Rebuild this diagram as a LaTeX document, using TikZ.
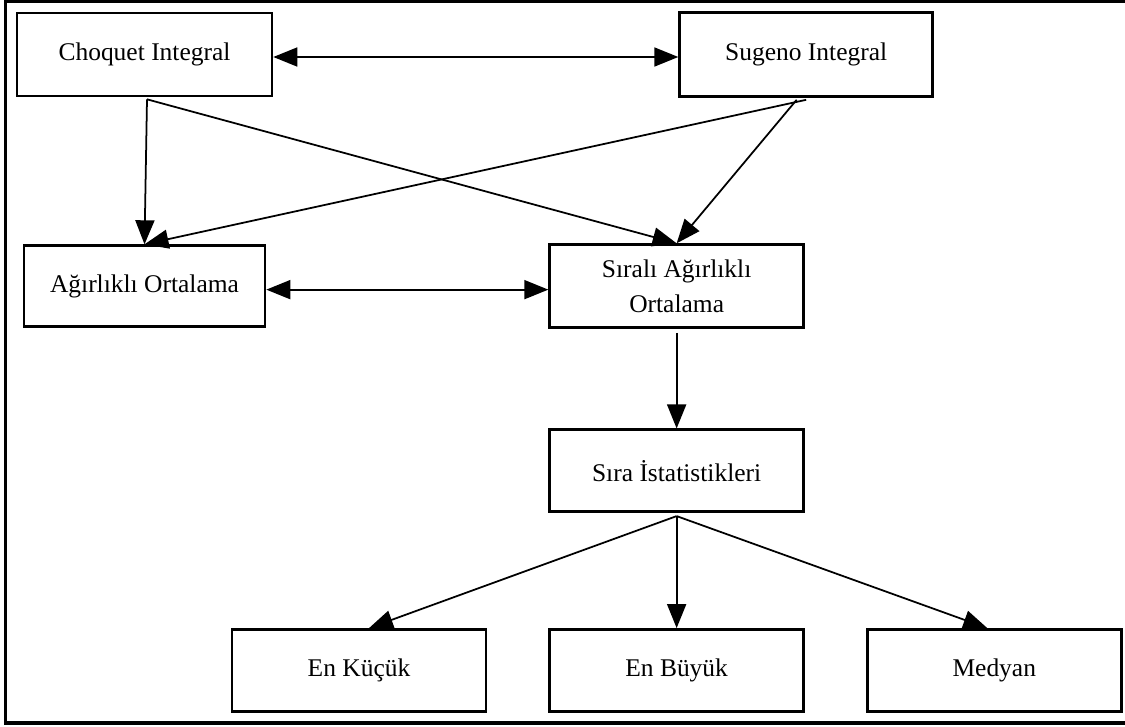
\documentclass[tikz,border=0pt]{standalone}
\usepackage{fontspec}
\setmainfont{Liberation Serif}
\usepackage{tikz}
\usetikzlibrary{arrows.meta, positioning}
\tikzset{
  box/.style={
    draw=black, line width=1.5pt, align=center, inner sep=2pt,
    minimum width=5.08cm, minimum height=1.64cm,
    font=\fontsize{14.5pt}{20pt}\selectfont
  },
  arrow/.style={-{Triangle[length=0.48cm, width=0.38cm]}, line width=1pt},
  twoarrow/.style={{Triangle[length=0.48cm, width=0.38cm]}-{Triangle[length=0.48cm, width=0.38cm]}, line width=1pt},
  frame/.style={line width=2pt}
}
\begin{document}
\begin{tikzpicture}
  \useasboundingbox (0,0) rectangle (22.5,-14.52);
  \draw[frame] (23,-0.03) -- (0.11,-0.03) -- (0.11,-14.46) -- (23,-14.46);

  \node[box, minimum width=5.1cm, minimum height=1.66cm] (choq) at (2.89,-1.09) {Choquet Integral};
  \node[box, minimum width=5.06cm, minimum height=1.68cm, right=8.1cm of choq] (sug) {Sugeno Integral};
  \node[box, minimum width=4.82cm, minimum height=1.62cm, below=2.94cm of choq] (agir) {Ağırlıklı Ortalama};
  \node[box, minimum height=1.66cm, right=5.64cm of agir] (sirali) {Sıralı Ağırlıklı\\Ortalama};
  \node[box, below=1.99cm of sirali] (sira) {Sıra İstatistikleri};
  \node[box, below=2.3cm of sira] (buyuk) {En Büyük};
  \node[box, left=1.22cm of buyuk] (kucuk) {En Küçük};
  \node[box, right=1.22cm of buyuk] (medyan) {Medyan};

  \draw[twoarrow] ([yshift=-0.05cm]choq.east) -- ([yshift=-0.05cm]sug.west);
  \draw[twoarrow] ([yshift=-0.07cm]agir.east) -- ([yshift=-0.07cm]sirali.west);
  \draw[arrow] ([xshift=0.05cm,yshift=-0.04cm]choq.south) -- (agir.north);
  \draw[arrow] ([xshift=0.05cm,yshift=-0.04cm]choq.south) -- (sirali.north);
  \draw[arrow] ([yshift=-0.04cm]sug.south) -- (agir.north);
  \draw[arrow] ([xshift=-0.19cm,yshift=-0.04cm]sug.south) -- (sirali.north);
  \draw[arrow] ([yshift=-0.08cm]sirali.south) -- (sira.north);
  \draw[arrow] ([yshift=-0.06cm]sira.south) -- ([xshift=0.2cm]kucuk.north);
  \draw[arrow] ([yshift=-0.06cm]sira.south) -- (buyuk.north);
  \draw[arrow] ([yshift=-0.06cm]sira.south) -- ([xshift=-0.14cm]medyan.north);
\end{tikzpicture}
\end{document}
